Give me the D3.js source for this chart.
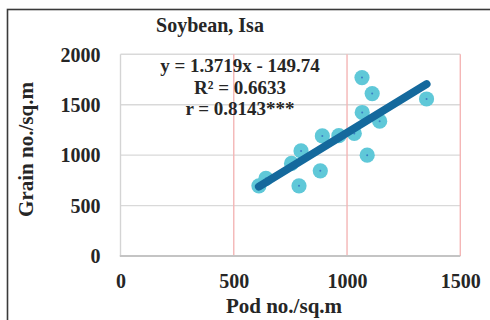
<!DOCTYPE html>
<html>
<head>
<meta charset="utf-8">
<script src="https://cdn.jsdelivr.net/npm/d3@7"></script>
<style>
  html, body { margin: 0; padding: 0; background: #fff; }
  svg { display: block; }
  text { font-family: "Liberation Serif", "Times New Roman", serif; font-weight: bold; fill: #262626; }
</style>
</head>
<body>
<div id="chart"></div>
<script>
"use strict";

//-----------------------------DATA-----------------------------//
const podNo = [611, 642, 755, 797, 788, 882, 891, 964, 1032, 1089, 1066, 1111, 1067, 1144, 1351];
const grainNo = [696, 769, 918, 1042, 696, 845, 1191, 1193, 1215, 1000, 1769, 1611, 1423, 1337, 1557];
const xTicks = [0, 500, 1000, 1500];
const yTicks = [0, 500, 1000, 1500, 2000];
const slope = 1.3719;
const intercept = -149.74;
const eqLines = ["y = 1.3719x - 149.74", "R² = 0.6633", "r = 0.8143***"];

//-----------------------------SVG------------------------------//
const width = 490;
const height = 320;
const svg = d3.select("#chart").append("svg")
    .attr("width", width)
    .attr("height", height);

// outer frame (cut off at right/bottom)
svg.append("rect")
    .attr("x", 7.5).attr("y", 9.5)
    .attr("width", 520).attr("height", 340)
    .attr("fill", "none")
    .attr("stroke", "#3a3a3a")
    .attr("stroke-width", 1.6);

//----------------------------SCALES----------------------------//
const x = d3.scaleLinear().domain([0, 1500]).range([120.5, 460.3]);
const y = d3.scaleLinear().domain([0, 2000]).range([256, 54.3]);

//---------------------------GRIDLINES--------------------------//
svg.append("g").selectAll("line")
    .data(yTicks.slice(1))
    .join("line")
    .attr("x1", x(0)).attr("x2", x(1500))
    .attr("y1", d => y(d)).attr("y2", d => y(d))
    .attr("stroke", "#d9d9d9")
    .attr("stroke-width", 1.4);

// left edge of plot
svg.append("line")
    .attr("x1", x(0)).attr("x2", x(0))
    .attr("y1", y(2000)).attr("y2", y(0))
    .attr("stroke", "#d4d4d4")
    .attr("stroke-width", 1.4);

svg.append("g").selectAll("line")
    .data(xTicks.slice(1))
    .join("line")
    .attr("x1", d => x(d)).attr("x2", d => x(d))
    .attr("y1", y(2000)).attr("y2", y(0))
    .attr("stroke", "#f4b6b6")
    .attr("stroke-width", 1.4);

// bottom axis line
svg.append("line")
    .attr("x1", x(0) - 0.7).attr("x2", x(1500))
    .attr("y1", y(0)).attr("y2", y(0))
    .attr("stroke", "#c4c4c4")
    .attr("stroke-width", 1.8);

//-----------------------------AXES-----------------------------//
const fmt = d3.format("d");
const xaxis = d3.axisBottom(x).tickValues(xTicks).tickFormat(fmt).tickSize(0).tickPadding(0);
const yaxis = d3.axisLeft(y).tickValues(yTicks).tickFormat(fmt).tickSize(0).tickPadding(0);

const xg = svg.append("g")
    .attr("transform", "translate(0," + 288 + ")")
    .call(xaxis);
xg.select(".domain").remove();
xg.selectAll("text")
    .attr("dy", 0)
    .attr("y", 0)
    .style("font-size", "20px")
    .style("font-family", "Liberation Serif, serif")
    .attr("fill", "#262626");

const yg = svg.append("g")
    .attr("transform", "translate(" + 100.5 + ",0)")
    .call(yaxis);
yg.select(".domain").remove();
yg.selectAll("text")
    .attr("x", 0)
    .attr("dy", "0.34em")
    .style("font-size", "20px")
    .style("font-family", "Liberation Serif, serif")
    .attr("fill", "#262626");

//---------------------------POINTS-----------------------------//
const pts = podNo.map((p, i) => ({ x: p, y: grainNo[i] }));

svg.append("g").selectAll("circle")
    .data(pts)
    .join("circle")
    .attr("cx", d => x(d.x))
    .attr("cy", d => y(d.y))
    .attr("r", 7.6)
    .attr("fill", "#5fc8d8");

svg.append("g").selectAll("circle")
    .data(pts)
    .join("circle")
    .attr("cx", d => x(d.x))
    .attr("cy", d => y(d.y))
    .attr("r", 1)
    .attr("fill", "#3b7dc4");

//---------------------------TRENDLINE--------------------------//
const xr = d3.extent(podNo);
const line = d3.line().x(d => x(d)).y(d => y(slope * d + intercept));
svg.append("path")
    .attr("d", line(xr))
    .attr("fill", "none")
    .attr("stroke", "#14699d")
    .attr("stroke-width", 8)
    .attr("stroke-linecap", "round");

//----------------------------TEXTS-----------------------------//
svg.append("text")
    .attr("x", 210).attr("y", 32)
    .attr("text-anchor", "middle")
    .style("font-size", "20px")
    .text("Soybean, Isa");

svg.append("g").selectAll("text")
    .data(eqLines)
    .join("text")
    .attr("x", 240)
    .attr("y", (d, i) => 72 + i * 21.5)
    .attr("text-anchor", "middle")
    .style("font-size", "19px")
    .text(d => d);

svg.append("text")
    .attr("x", 284).attr("y", 313)
    .attr("text-anchor", "middle")
    .style("font-size", "21px")
    .text("Pod no./sq.m");

svg.append("text")
    .attr("transform", "translate(33,149.5) rotate(-90)")
    .attr("text-anchor", "middle")
    .style("font-size", "21px")
    .text("Grain no./sq.m");
</script>
</body>
</html>
